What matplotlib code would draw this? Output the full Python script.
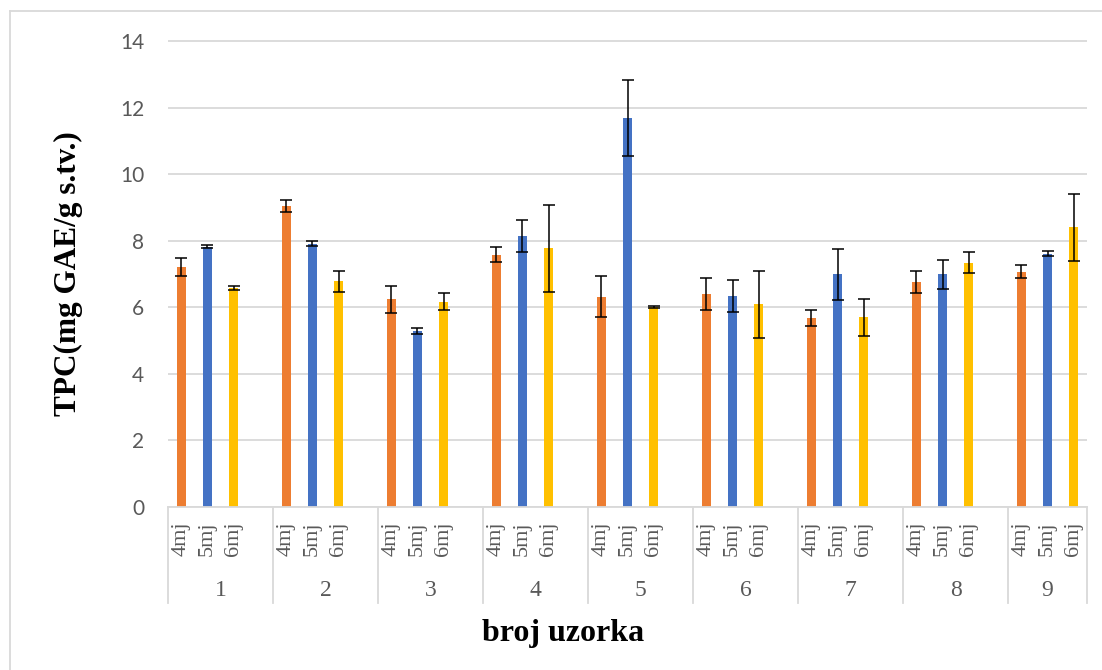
import matplotlib
matplotlib.use("Agg")
import matplotlib.pyplot as plt
from matplotlib.transforms import blended_transform_factory
from matplotlib.lines import Line2D
import numpy as np

groups = ["1", "2", "3", "4", "5", "6", "7", "8", "9"]
months = ["4mj", "5mj", "6mj"]
vals_4mj = [7.22, 9.05, 6.24, 7.59, 6.32, 6.41, 5.69, 6.77, 7.08]
err_4mj = [0.27, 0.18, 0.41, 0.23, 0.61, 0.48, 0.24, 0.34, 0.21]
vals_5mj = [7.83, 7.92, 5.29, 8.15, 11.70, 6.34, 6.99, 6.99, 7.62]
err_5mj = [0.05, 0.07, 0.08, 0.47, 1.15, 0.48, 0.78, 0.45, 0.08]
vals_6mj = [6.58, 6.78, 6.17, 7.78, 6.02, 6.09, 5.70, 7.35, 8.41]
err_6mj = [0.07, 0.32, 0.25, 1.31, 0.03, 1.01, 0.55, 0.32, 1.00]
colors = ["#ED7D31", "#4472C4", "#FFC000"]

W, H = 1102, 670
fig = plt.figure(figsize=(W / 100, H / 100), dpi=100)
ax_l, ax_r, ax_t, ax_b = 168, 1087, 40, 507
ax = fig.add_axes([ax_l / W, 1 - ax_b / H, (ax_r - ax_l) / W, (ax_b - ax_t) / H])

slots = 4
n_groups = len(groups)
series = [(vals_4mj, err_4mj), (vals_5mj, err_5mj), (vals_6mj, err_6mj)]
for i, (v, e) in enumerate(series):
    x = np.arange(n_groups) * slots + i
    ax.bar(x, v, width=0.34, color=colors[i], zorder=2)
    ax.errorbar(x, v, yerr=e, fmt="none", ecolor="black", elinewidth=1.1,
                capsize=4.5, capthick=1.1, zorder=3)

xmax = (n_groups - 1) * slots + len(months) - 0.5
ax.set_xlim(-0.5, xmax)
ax.set_ylim(0, 14.04)
ax.set_yticks(np.arange(0, 15, 2))
ax.yaxis.grid(True, color="#d9d9d9", linewidth=1.3, zorder=0)
ax.set_axisbelow(True)
for s in ["left", "right", "top"]:
    ax.spines[s].set_visible(False)
ax.spines["bottom"].set_color("#d9d9d9")
ax.spines["bottom"].set_linewidth(1.3)
ax.set_xticks([])
ax.tick_params(axis="y", length=0, pad=17, labelsize=15, labelcolor="#595959")
for lab in ax.get_yticklabels():
    lab.set_fontfamily("Lato")

tr = blended_transform_factory(ax.transData, fig.transFigure)
y_top = 1 - ax_b / H
y_bot = 1 - 603 / H
seps = [g * slots - 0.5 for g in range(n_groups)] + [xmax]
for sx in seps:
    ax.add_line(Line2D([sx, sx], [y_top, y_bot], transform=tr, color="#d9d9d9",
                       linewidth=1.3, clip_on=False))

for g in range(n_groups):
    for i, m in enumerate(months):
        ax.text(g * slots + i, 1 - 521 / H, m, transform=tr, rotation=90,
                ha="center", va="top", fontsize=16, color="#595959",
                family="Liberation Serif")
    left = seps[g]
    right = seps[g + 1]
    ax.text((left + right) / 2, 1 - 590 / H, groups[g], transform=tr,
            ha="center", va="center", fontsize=17, color="#595959",
            family="Liberation Serif")

fig.text(68 / W, 1 - 274 / H, "TPC(mg GAE/g s.tv.)", rotation=90,
         ha="center", va="center", fontsize=22.5, fontweight="bold",
         family="Liberation Serif")
fig.text(563 / W, 1 - 634 / H, "broj uzorka", ha="center", va="center",
         fontsize=23, fontweight="bold", family="Liberation Serif")

fig.add_artist(Line2D([10 / W, 10 / W], [0, 1 - 11 / H], transform=fig.transFigure,
                      color="#d9d9d9", linewidth=1.3))
fig.add_artist(Line2D([10 / W, 1], [1 - 11 / H, 1 - 11 / H], transform=fig.transFigure,
                      color="#d9d9d9", linewidth=1.3))

fig.savefig("out.png", dpi=100)
